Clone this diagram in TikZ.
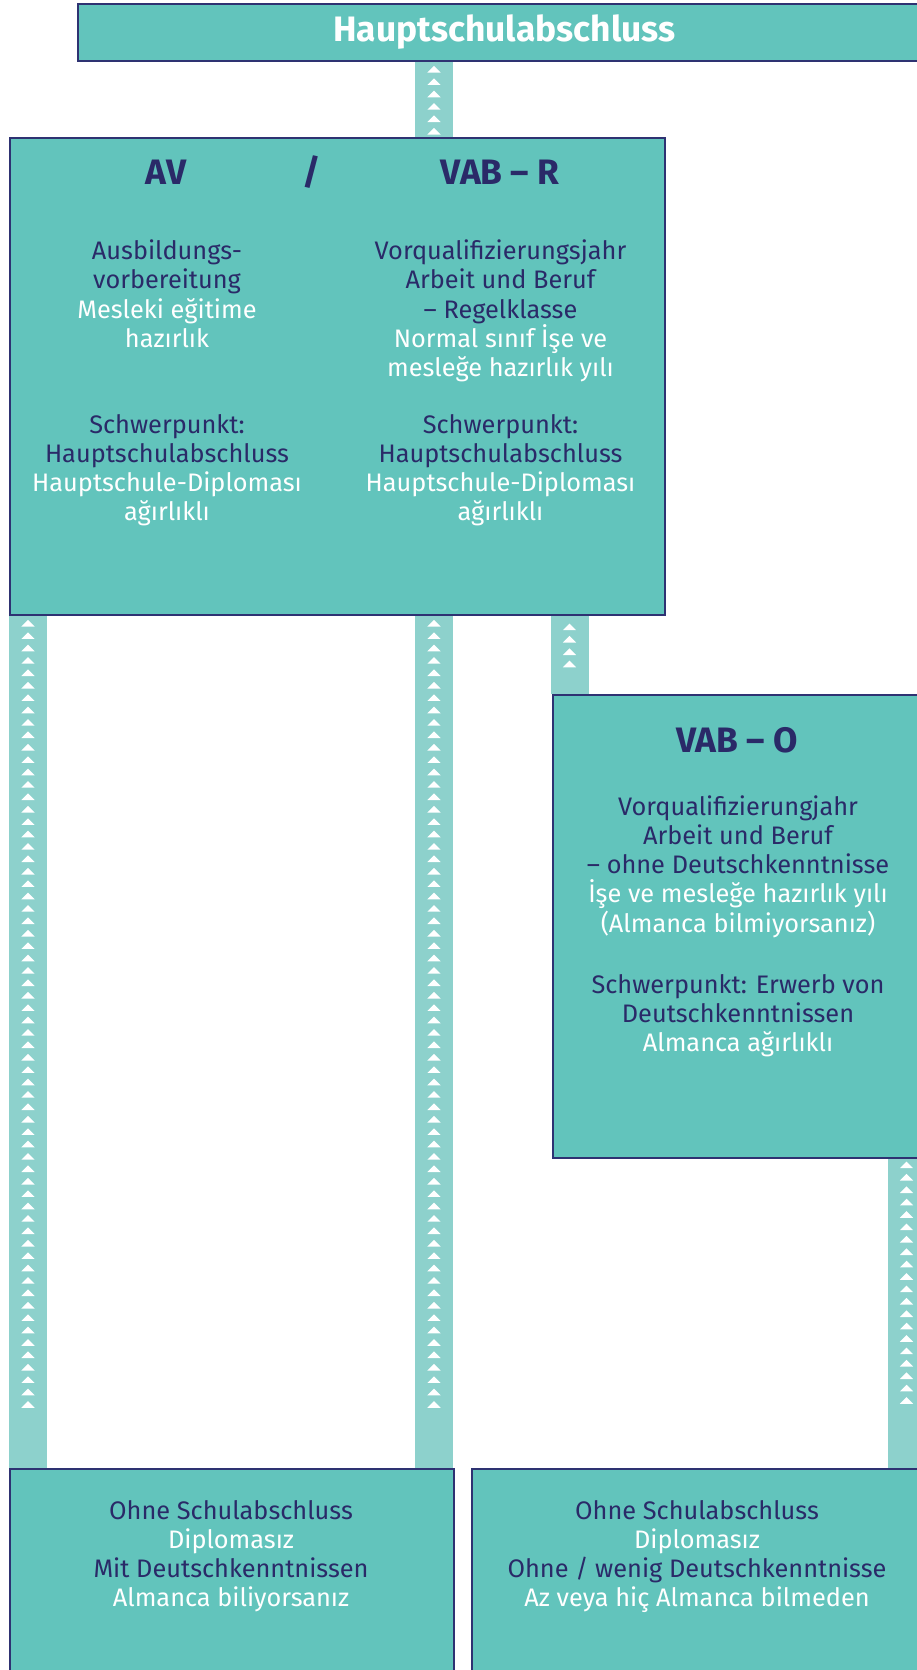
\documentclass[tikz,border=0pt]{standalone}
\usepackage{fontspec}
\setmainfont{Fira Sans}
\usetikzlibrary{decorations.markings,backgrounds}

\definecolor{boxteal}{HTML}{62C4BC}
\definecolor{stripteal}{HTML}{8DD1CC}
\definecolor{navyline}{HTML}{2E3272}
\definecolor{navytext}{HTML}{2A2A68}
\newcommand{\tw}[1]{\textcolor{white}{#1}}
\newcommand{\topstrut}{\rule{0pt}{15pt}}

\begin{document}
\begin{tikzpicture}[x=0.75pt,y=-0.75pt,
    box/.style={rectangle, draw=navyline, line width=1.5pt, fill=boxteal, inner sep=0pt, anchor=north west},
    head/.style={font=\bfseries\fontsize{26.5}{30}\selectfont, text=navytext, inner sep=0pt, anchor=base},
    body/.style={font=\fontsize{19}{21.9}\selectfont, text=navytext, align=center, inner sep=0pt, anchor=north},
    strip/.style n args={2}{draw=stripteal, line width=28.5pt, postaction={decorate},
      decoration={markings, mark=between positions #1 and #2 step 9.3pt with
        {\fill[white] (-2.6pt,0) -- (2.4pt,5pt) -- (2.4pt,-5pt) -- cycle;}}}]
    \useasboundingbox (0,0) rectangle (917,1670);

    \node[box, minimum width=639.75pt, minimum height=42.75pt, text=white, font=\bfseries\fontsize{26.5}{30}\selectfont] (topbar) at (77,3) {Hauptschulabschluss};
    \node[box, minimum width=491.25pt, minimum height=357.75pt] (avr) at (9,137) {};
    \node[box, minimum width=287.25pt, minimum height=347.25pt] (vabo) at (552,694) {};
    \node[box, minimum width=333pt, minimum height=174pt] (mitdt) at (9,1468) {};
    \node[box, minimum width=348pt, minimum height=174pt] (ohnedt) at (471,1468) {};

    \node[head] (avhead) at (166,184) {AV};
    \node[head] (slash) at (312,184) {/};
    \node[head] (vabrhead) at (500,184) {VAB – R};
    \node[body] (avtext) at (167,239.5) {\topstrut Ausbildungs-\\vorbereitung\\\tw{Mesleki eğitime}\\\tw{hazırlık}};
    \node[body] (vabrtext) at (500.5,239.5) {\topstrut Vorqualifizierungsjahr\\Arbeit und Beruf\\– Regelklasse\\\tw{Normal sınıf İşe ve}\\\tw{mesleğe hazırlık yılı}};
    \node[body] (avfocus) at (167,413) {\topstrut Schwerpunkt:\\Hauptschulabschluss\\\tw{Hauptschule-Diploması}\\\tw{ağırlıklı}};
    \node[body] (vabrfocus) at (500.5,413) {\topstrut Schwerpunkt:\\Hauptschulabschluss\\\tw{Hauptschule-Diploması}\\\tw{ağırlıklı}};

    \node[head] (vabohead) at (737,752) {VAB – O};
    \node[body] (vabotext) at (738,795) {\topstrut Vorqualifizierungjahr\\Arbeit und Beruf\\– ohne Deutschkenntnisse\\\tw{İşe ve mesleğe hazırlık yılı}\\\tw{(Almanca bilmiyorsanız)}};
    \node[body] (vabofocus) at (738,973) {\topstrut Schwerpunkt: Erwerb von\\Deutschkenntnissen\\\tw{Almanca ağırlıklı}};

    \node[body] (mitdttext) at (231,1499) {\topstrut Ohne Schulabschluss\\\tw{Diplomasız}\\Mit Deutschkenntnissen\\\tw{Almanca biliyorsanız}};
    \node[body] (ohnedttext) at (697,1499) {\topstrut Ohne Schulabschluss\\\tw{Diplomasız}\\Ohne / wenig Deutschkenntnisse\\\tw{Az veya hiç Almanca bilmeden}};

    \coordinate (s0) at (434,0);
    \coordinate (s1) at (28,0);
    \coordinate (s2) at (434,0);
    \coordinate (s3) at (569.5,0);
    \coordinate (s4) at (906.5,0);

    \begin{scope}[on background layer]
      \draw[strip={5.5pt}{-4pt}] (topbar.south -| s0) -- (avr.north -| s0);
      \draw[strip={5.5pt}{-44pt}] (avr.south -| s1) -- (mitdt.north -| s1);
      \draw[strip={5.5pt}{-44pt}] (avr.south -| s2) -- (mitdt.north -| s2);
      \draw[strip={8.25pt}{-14pt}] (avr.south -| s3) -- (vabo.north -| s3);
      \draw[strip={4.5pt}{-47pt}] (vabo.south -| s4) -- (ohnedt.north -| s4);
    \end{scope}
\end{tikzpicture}
\end{document}
